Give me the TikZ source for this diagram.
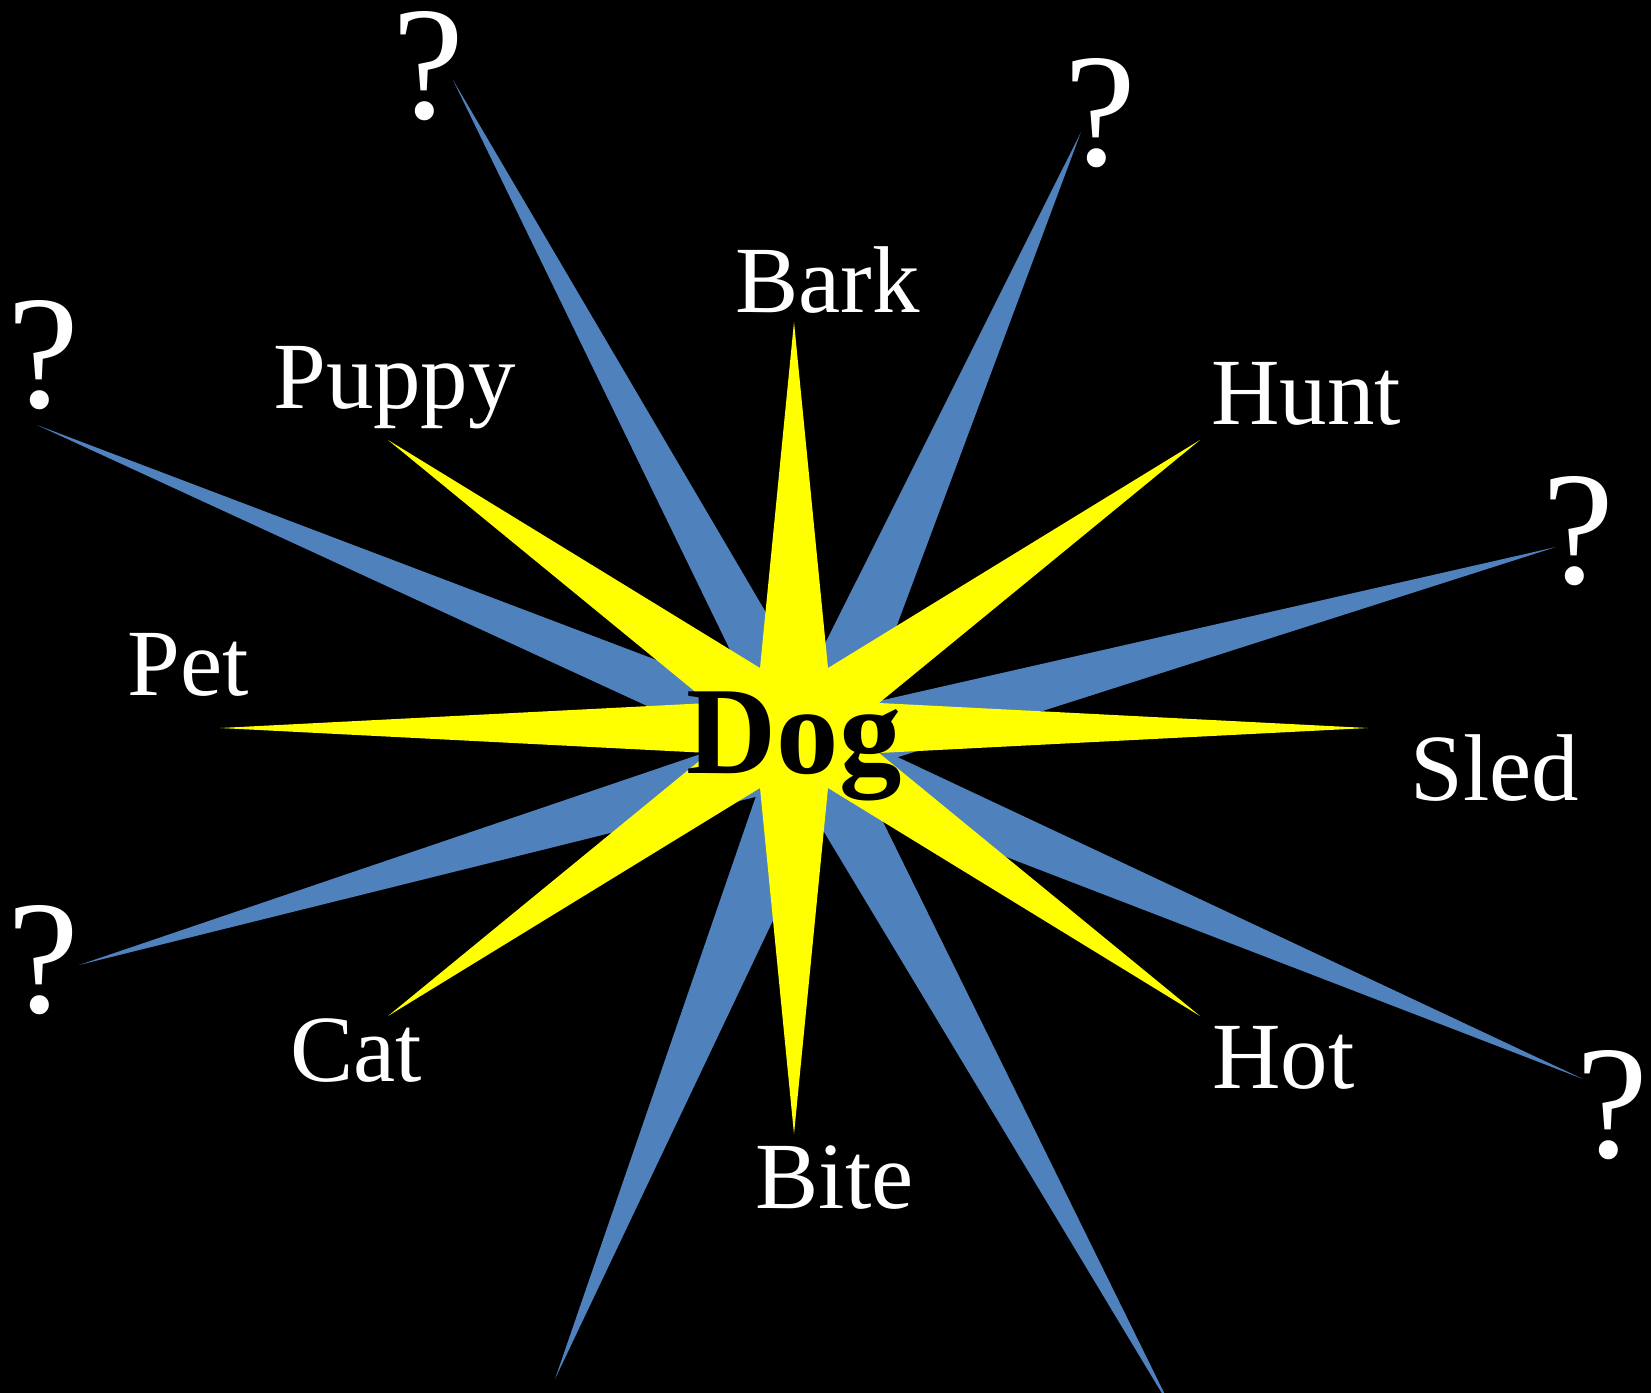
\documentclass[tikz,border=0pt]{standalone}
\usepackage{fontspec}
\setmainfont{Liberation Serif}
\usetikzlibrary{calc}

\definecolor{spikeblue}{RGB}{79,129,189}
\definecolor{staryellow}{RGB}{255,255,0}

\begin{document}
\begin{tikzpicture}[x=0.02cm,y=-0.02cm,
    word/.style={text=white,font=\fontsize{54}{60}\selectfont,inner sep=0pt,anchor=base west},
    qmark/.style={text=white,font=\fontsize{92}{100}\selectfont,inner sep=0pt,
      text height=2.2cm,text depth=0pt,anchor=base}]
  \fill[black] (0,0) rectangle (1651,1393);
  \useasboundingbox (0,0) rectangle (1651,1393);
  \clip (0,0) rectangle (1651,1393);
  \coordinate (cb) at (812,750);
  \coordinate (cy) at (794,728);
  % blue spikes behind, one thin triangle per question mark (tip / half width at the base)
  \foreach \tx/\ty/\w in {453/80/0.60cm,1081/132/0.72cm,1556/547/0.66cm,1583/1079/0.60cm,
      1175/1415/0.64cm,555/1379/0.76cm,79/965/0.64cm,37/425/0.58cm}
    \fill[spikeblue] (\tx,\ty) -- ($(cb)!\w!90:(\tx,\ty)$) -- ($(cb)!\w!-90:(\tx,\ty)$) -- cycle;
  % yellow eight point star
  \fill[staryellow] (794,322) -- (828,668) -- (1200,440) -- (879,703) -- (1368,728) -- (879,753)
    -- (1200,1016) -- (828,788) -- (794,1134) -- (760,788) -- (388,1016) -- (709,753)
    -- (220,728) -- (709,703) -- (388,440) -- (760,668) -- cycle;
  \node[font=\fontsize{71}{80}\selectfont\bfseries,inner sep=0pt,anchor=base] (dog) at (794,773) {Dog};
  \node[word] (bark) at (735,312) {Bark};
  \node[word] (puppy) at (273,408) {Puppy};
  \node[word] (hunt) at (1211,424) {Hunt};
  \node[word] (pet) at (127,695) {Pet};
  \node[word] (sled) at (1410,800) {Sled};
  \node[word] (cat) at (290,1081) {Cat};
  \node[word] (hot) at (1212,1088) {Hot};
  \node[word] (bite) at (755,1208) {Bite};
  \node[qmark] (q1) at (428,118) {?};
  \node[qmark] (q2) at (1100,165) {?};
  \node[qmark] (q3) at (1578,583) {?};
  \node[qmark] (q4) at (1612,1157) {?};
  \node[qmark] (q5) at (43,1012) {?};
  \node[qmark] (q6) at (43,407) {?};
\end{tikzpicture}
\end{document}
